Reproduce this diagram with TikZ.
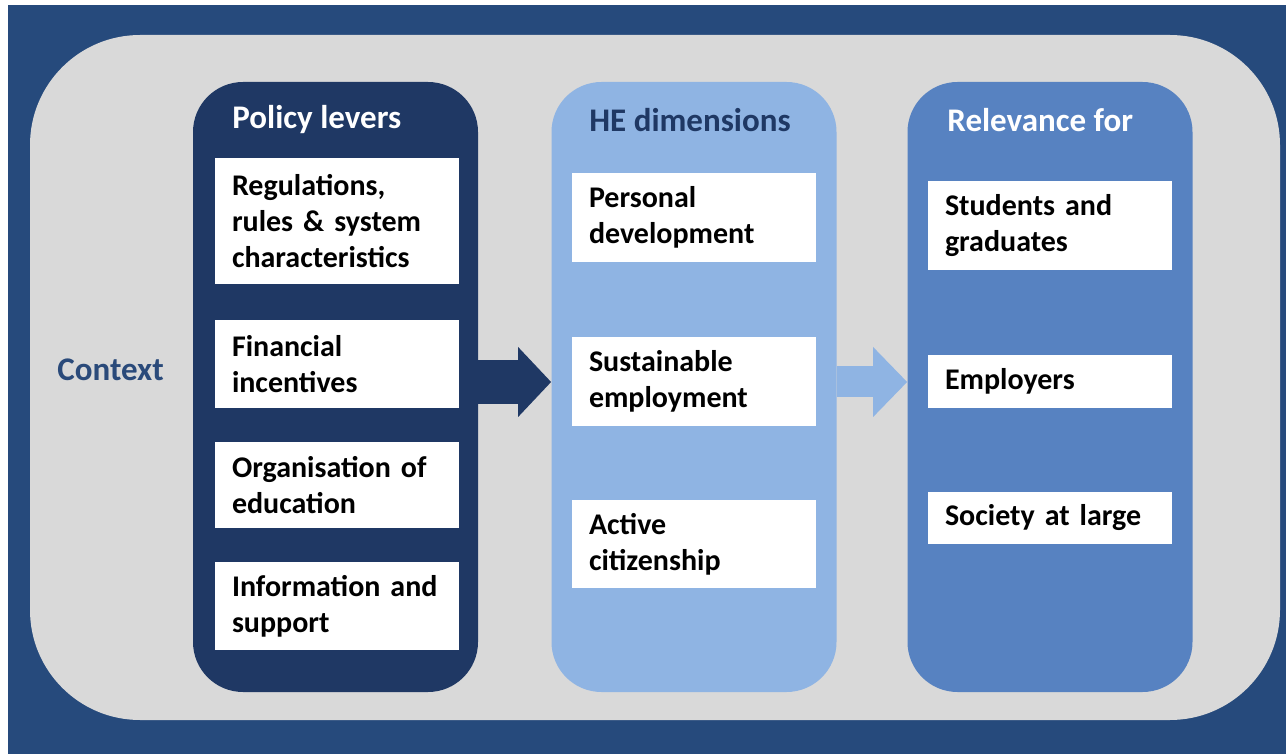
\documentclass[tikz,border=0pt]{standalone}
\usepackage{fontspec}
\setmainfont{Carlito}
\usepackage{tikz}
\usepackage{xcolor}
\usetikzlibrary{positioning,arrows.meta,calc}
\definecolor{bgblue}{HTML}{264A7C}
\definecolor{ctxgray}{HTML}{D9D9D9}
\definecolor{navy}{HTML}{1F3864}
\definecolor{lightcol}{HTML}{8FB4E3}
\definecolor{midcol}{HTML}{5782C1}
\definecolor{ctxtext}{HTML}{2A4A7A}
\newcommand{\bodyfont}{\fontsize{15}{18}\selectfont\bfseries}
\newcommand{\titlefont}{\fontsize{16.5}{20}\selectfont\bfseries}

\begin{document}
\begin{tikzpicture}[x=0.5pt,y=-0.5pt,
    column/.style={rounded corners=25pt, inner sep=0pt, minimum width=142.5pt, minimum height=305pt},
    coltitle/.style={anchor=west, inner sep=0pt, font=\titlefont},
    itembox/.style={fill=white, inner xsep=8.5pt, inner ysep=0pt, text width=105pt,
        minimum width=122pt, align=left, font=\bodyfont, text=black}]
    \useasboundingbox (0,0) rectangle (1286,754);

    % Background and context frame
    \fill[bgblue] (8,5) rectangle (1286,754);
    \fill[ctxgray, rounded corners=55pt] (30,35) rectangle (1280,720);
    \node[coltitle, text=ctxtext] (context) at (57,370) {Context};

    % Columns
    \node[column, fill=navy] (policy) at (335.5,387) {};
    \node[column, fill=lightcol] (hedim) at (694,387) {};
    \node[column, fill=midcol] (relev) at (1050,387) {};

    \node[coltitle, text=white] (policytitle) at (232,120) {Policy levers};
    \node[coltitle, text=navy] (hedimtitle) at (589,120) {HE dimensions};
    \node[coltitle, text=white] (relevtitle) at (947,120) {Relevance for};

    % Policy levers
    \node[itembox, minimum height=63pt] (pol1) at (337,221) {Regulations,\\rules \& system\\characteristics};
    \node[itembox, minimum height=44pt] (pol2) at (337,364) {Financial\\incentives};
    \node[itembox, minimum height=43pt] (pol3) at (337,485) {Organisation of\\education};
    \node[itembox, minimum height=44pt] (pol4) at (337,606) {Information and\\support};

    % HE dimensions
    \node[itembox, minimum height=44.5pt] (he1) at (694,217.5) {Personal\\development};
    \node[itembox, minimum height=44.5pt] (he2) at (694,381.5) {Sustainable\\employment};
    \node[itembox, minimum height=44pt] (he3) at (694,544) {Active\\citizenship};

    % Relevance for
    \node[itembox, minimum height=44.5pt] (rel1) at (1050,225.5) {Students and\\graduates};
    \node[itembox, minimum height=26.5pt] (rel2) at (1050,381.5) {Employers};
    \node[itembox, minimum height=26pt] (rel3) at (1050,518) {Society at large};

    % Arrows between columns
    \draw[navy, line width=22pt, -{Triangle[length=16.5pt,width=35pt,line width=0pt]}]
        ([yshift=2.5pt]policy.east) -- ([yshift=2.5pt]hedim.west);
    \draw[lightcol, line width=15.5pt, -{Triangle[length=17pt,width=35pt,line width=0pt]}]
        ([yshift=2.5pt]hedim.east) -- ([yshift=2.5pt]relev.west);
\end{tikzpicture}
\end{document}
